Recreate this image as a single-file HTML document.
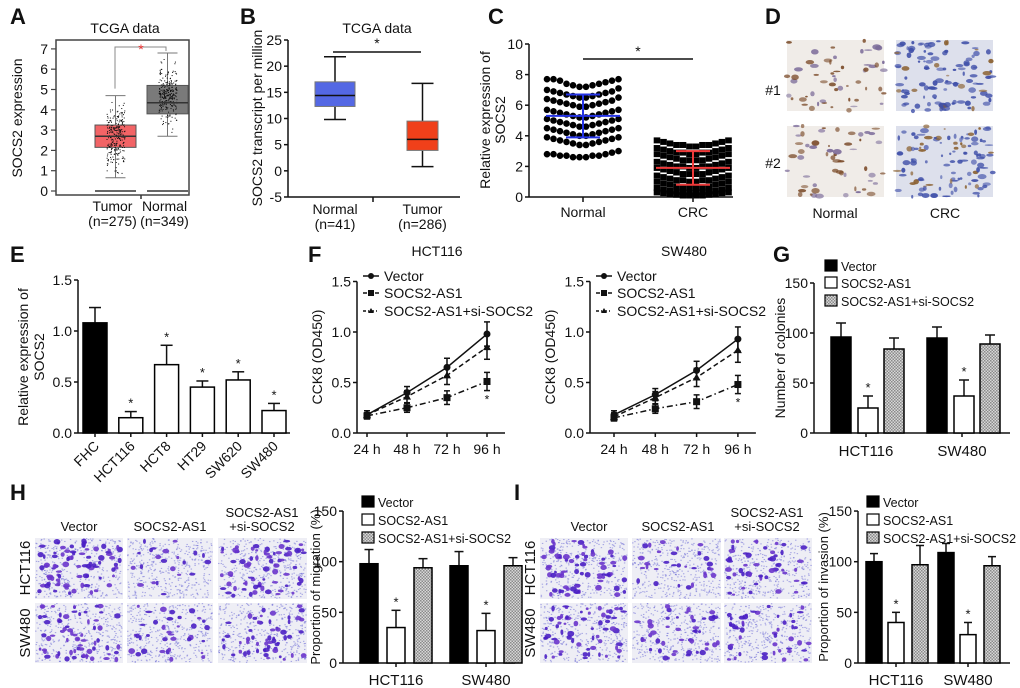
<!DOCTYPE html>
<html><head><meta charset="utf-8"><style>
html,body{margin:0;padding:0;background:#fff;}
svg{display:block;font-family:"Liberation Sans",Arial,sans-serif;}
</style></head><body>
<svg id="fig" width="1020" height="688" viewBox="0 0 1020 688" xmlns="http://www.w3.org/2000/svg">
<defs>
<pattern id="hatch" width="3" height="3" patternUnits="userSpaceOnUse"><rect width="3" height="3" fill="#d8d8d8"/><rect width="1.5" height="1.5" fill="#8a8a8a"/><rect x="1.5" y="1.5" width="1.5" height="1.5" fill="#8a8a8a"/></pattern>
</defs>
</svg>
<script>
// ---------- DATA ----------
const aCats=["Tumor","Normal"];
const aN=["(n=275)","(n=349)"];
const aQ1=[2.15,3.8], aMed=[2.7,4.35], aQ3=[3.25,5.2], aLo=[0.65,2.7], aHi=[4.7,6.8];
const aTicks=[0,1,2,3,4,5,6,7];
const bCats=["Normal","Tumor"], bN=["(n=41)","(n=286)"];
const bQ1=[12.3,3.9], bMed=[14.4,6.0], bQ3=[17.0,9.5], bLo=[9.8,0.8], bHi=[21.8,16.7];
const bTicks=[-5,0,5,10,15,20,25];
const cTicks=[0,2,4,6,8,10];
const cNormal=[7.7,7.7,7.6,7.4,7.3,7.2,7.2,7.3,7.4,7.5,7.6,7.7,
 7.0,6.9,6.8,6.7,6.6,6.5,6.5,6.6,6.7,6.8,6.9,7.1,
 6.4,6.3,6.2,6.1,6.0,5.9,5.9,6.0,6.1,6.2,6.3,6.5,
 5.7,5.6,5.5,5.4,5.3,5.2,5.2,5.3,5.4,5.5,5.6,5.7,
 5.1,5.0,4.9,4.8,4.7,4.6,4.6,4.7,4.8,4.9,5.0,5.1,
 4.5,4.4,4.3,4.2,4.1,4.0,4.0,4.1,4.2,4.3,4.4,4.5,
 3.9,3.8,3.7,3.6,3.5,3.4,3.4,3.5,3.6,3.7,3.8,3.9,
 2.8,2.8,2.7,2.7,2.6,2.6,2.6,2.7,2.7,2.8,2.9,3.0];
const cCRC=[3.7,3.6,3.5,3.4,3.4,3.3,3.3,3.4,3.4,3.5,3.6,3.7,
 3.2,3.1,3.0,2.9,2.9,2.8,2.8,2.9,2.9,3.0,3.1,3.2,
 2.8,2.7,2.6,2.5,2.4,2.4,2.4,2.4,2.5,2.6,2.7,2.8,
 2.3,2.2,2.1,2.0,2.0,1.9,1.9,2.0,2.0,2.1,2.2,2.3,
 1.9,1.8,1.7,1.6,1.5,1.5,1.5,1.5,1.6,1.7,1.8,1.9,
 1.4,1.3,1.2,1.1,1.1,1.0,1.0,1.1,1.1,1.2,1.3,1.4,
 1.0,0.9,0.8,0.7,0.6,0.6,0.6,0.6,0.7,0.8,0.9,1.0,
 0.6,0.5,0.4,0.35,0.3,0.25,0.25,0.3,0.35,0.4,0.5,0.6,
 0.3,0.25,0.2,0.15,0.1,0.1,0.1,0.1,0.15,0.2,0.25,0.3];
const cMean=[5.3,1.9], cSdLo=[3.9,0.8], cSdHi=[6.7,3.0];
const eCats=["FHC","HCT116","HCT8","HT29","SW620","SW480"];
const eVals=[1.08,0.15,0.67,0.45,0.52,0.22];
const eErr=[0.15,0.06,0.19,0.06,0.08,0.07];
const eTicks=[0,0.5,1.0,1.5];
const fTimes=["24 h","48 h","72 h","96 h"];
const fTicks=[0,0.5,1.0,1.5];
const fH_vec=[0.18,0.40,0.65,0.98], fH_as1=[0.17,0.25,0.35,0.51], fH_si=[0.18,0.36,0.57,0.85];
const fS_vec=[0.18,0.38,0.62,0.93], fS_as1=[0.15,0.24,0.31,0.48], fS_si=[0.16,0.35,0.55,0.82];
const fErr=[0.04,0.06,0.09,0.12];
const grpCats=["HCT116","SW480"];
const gVec=[96,95], gVecE=[14,11], gAs1=[25,37], gAs1E=[12,16], gSi=[84,89], gSiE=[11,9];
const hVec=[98,96], hVecE=[14,14], hAs1=[35,32], hAs1E=[17,17], hSi=[94,96], hSiE=[9,8];
const iVec=[100,109], iVecE=[8,9], iAs1=[40,28], iAs1E=[10,12], iSi=[97,96], iSiE=[19,9];
const barTicks=[0,50,100,150];

// ---------- HELPERS ----------
const svg=document.getElementById('fig');
const NS='http://www.w3.org/2000/svg';
function mk(tag,a,name){
  const e=document.createElementNS(NS,tag);
  for(const k in a) e.setAttribute(k,a[k]);
  
  
  svg.appendChild(e); return e;
}
function txt(x,y,s,name,opt){
  opt=opt||{};
  const a={x:x,y:y,'font-size':opt.size||13,'text-anchor':opt.anchor||'middle',fill:opt.fill||'#111'};
  if(opt.weight) a['font-weight']=opt.weight;
  if(opt.rot!==undefined) a.transform='rotate('+opt.rot+' '+x+' '+y+')';
  const t=mk('text',a,name); t.textContent=s; return t;
}
function line(x1,y1,x2,y2,name,w,c,dash){
  const a={x1:x1,y1:y1,x2:x2,y2:y2,stroke:c||'#111','stroke-width':w||1.5};
  if(dash) a['stroke-dasharray']=dash;
  return mk('line',a,name);
}
function yAxis(x,ticks,sc,fmt,name){
  line(x,sc(ticks[ticks.length-1]),x,sc(ticks[0]),name+'-line');
  ticks.forEach(t=>{line(x-4,sc(t),x,sc(t),name+'-tick');
    txt(x-6,sc(t)+5,fmt(t),name+'-tick-label',{anchor:'end',size:14});});
}
function panel(x,y,s){txt(x,y,s,'panel-label-'+s.toLowerCase(),{size:22,weight:'bold',anchor:'start'});}
function rng(seed){let s=seed;return()=>{s=(s*16807)%2147483647;return (s-1)/2147483646;};}
function errCap(x,yTop,yBase,cw,name){line(x,yBase,x,yTop,name);line(x-cw/2,yTop,x+cw/2,yTop,name+'-cap');}

// ---------- PANEL A ----------
panel(10,24,'A');
const sA=v=>191-v*20.3;
txt(125,33,'TCGA data','a-title',{size:14});
mk('rect',{x:56,y:40,width:133,height:155,fill:'none',stroke:'#444','stroke-width':1.5},'a-frame');
aTicks.forEach(t=>{line(51,sA(t),56,sA(t),'a-y-tick',1.2,'#444');txt(48,sA(t)+5,String(t),'a-y-tick-label',{anchor:'end',size:14});});
txt(22,118,'SOCS2 expression','a-y-axis-title',{rot:-90,size:14});
const aX=[115.5,167.5], aW=41, aFill=['#f26466','#7a7a7a'];
aCats.forEach((c,i)=>{
  const cx=aX[i];
  line(cx,sA(aLo[i]),cx,sA(aQ1[i]),'a-whisker-'+c,1,'#777');
  line(cx,sA(aQ3[i]),cx,sA(aHi[i]),'a-whisker-'+c,1,'#777');
  line(cx-10,sA(aLo[i]),cx+10,sA(aLo[i]),'a-whisker-cap',1,'#777');
  line(cx-10,sA(aHi[i]),cx+10,sA(aHi[i]),'a-whisker-cap',1,'#777');
  mk('rect',{x:cx-aW/2,y:sA(aQ3[i]),width:aW,height:sA(aQ1[i])-sA(aQ3[i]),fill:aFill[i],stroke:'#555','stroke-width':1},'a-box-'+c.toLowerCase());
  const r=rng(7+i*13);
  for(let k=0;k<260;k++){const u=(r()+r()+r())/3;const v=aLo[i]+(aHi[i]-aLo[i])*u;
    mk('rect',{x:cx-9+r()*18,y:sA(v),width:1,height:1,fill:'#111'},'a-point');}
  line(cx-aW/2,sA(aMed[i]),cx+aW/2,sA(aMed[i]),'a-median-'+c.toLowerCase(),1.5,'#333');
  line(cx-aW/2,sA(0),cx+aW/2,sA(0),'a-zero-line',2,'#666');
  txt(cx-3,211,c,'a-x-label',{size:14});
  txt(cx-3,226,aN[i],'a-x-n-label',{size:14});
});
line(141,195,141,199,'a-x-tick',1.5,'#333');
mk('path',{d:'M115,'+(sA(aHi[0])-7)+' V47 H166 V'+(sA(aHi[1])-2),fill:'none',stroke:'#888','stroke-width':1},'a-significance-bracket');
txt(141,54,'*','a-significance-star',{fill:'#e83030',size:14});

// ---------- PANEL B ----------
panel(240,24,'B');
const sB=v=>40+(25-v)*5.233;
txt(377,33,'TCGA data','b-title',{size:14});
yAxis(288,bTicks,sB,t=>String(t),'b-y-axis');
line(288,197,460,197,'b-x-axis');
line(373,197,373,202,'b-x-tick');
txt(262,118,'SOCS2 transcript per million','b-y-axis-title',{rot:-90,size:14});
const bX=[335,422.5], bW=[40,31], bFill=['#5468e4','#f0401a'];
bCats.forEach((c,i)=>{
  const cx=bX[i];
  line(cx,sB(bLo[i]),cx,sB(bQ1[i]),'b-whisker');
  line(cx,sB(bQ3[i]),cx,sB(bHi[i]),'b-whisker');
  line(cx-11,sB(bLo[i]),cx+11,sB(bLo[i]),'b-whisker-cap');
  line(cx-11,sB(bHi[i]),cx+11,sB(bHi[i]),'b-whisker-cap');
  mk('rect',{x:cx-bW[i]/2,y:sB(bQ3[i]),width:bW[i],height:sB(bQ1[i])-sB(bQ3[i]),fill:bFill[i],stroke:'#777','stroke-width':1},'b-box-'+c.toLowerCase());
  line(cx-bW[i]/2,sB(bMed[i]),cx+bW[i]/2,sB(bMed[i]),'b-median',1.5,'#111');
  txt(cx,214,c,'b-x-label',{size:14});
  txt(cx,229,bN[i],'b-x-n-label',{size:14});
});
line(333,52,421,52,'b-significance-line');
txt(377,48,'*','b-significance-star',{size:14});

// ---------- PANEL C ----------
panel(488,24,'C');
const sC=v=>197-v*15.3;
yAxis(529,cTicks,sC,t=>String(t),'c-y-axis');
line(529,197,733,197,'c-x-axis');
txt(490,120,'Relative expression of','c-y-axis-title',{rot:-90,size:14});
txt(505,120,'SOCS2','c-y-axis-title-2',{rot:-90,size:14});
const cX=[583,693];
[cNormal,cCRC].forEach((arr,g)=>{
  arr.forEach((v,i)=>{
    const col=i%12, x=cX[g]-36+col*6.5;
    if(g===0) mk('circle',{cx:x,cy:sC(v),r:3.3,fill:'#000'},'c-normal-dot');
    else mk('rect',{x:x-3.3,y:sC(v)-3,width:6.6,height:6,fill:'#000'},'c-crc-square');
  });
});
[['#2433e6',0],['#ee3a3a',1]].forEach(([col,g])=>{
  line(cX[g]-37,sC(cMean[g]),cX[g]+37,sC(cMean[g]),'c-mean-line',2,col);
  line(cX[g],sC(cSdLo[g]),cX[g],sC(cSdHi[g]),'c-sd-line',2,col);
  line(cX[g]-17,sC(cSdLo[g]),cX[g]+17,sC(cSdLo[g]),'c-sd-cap',2,col);
  line(cX[g]-17,sC(cSdHi[g]),cX[g]+17,sC(cSdHi[g]),'c-sd-cap',2,col);
  line(cX[g],197,cX[g],202,'c-x-tick');
});
txt(583,217,'Normal','c-x-label',{size:14});
txt(693,217,'CRC','c-x-label',{size:14});
line(583,59,693,59,'c-significance-line');
txt(638,56,'*','c-significance-star',{size:14});

// ---------- PANEL D (IHC images) ----------
panel(765,24,'D');
function ihc(x,y,w,h,seed,kind,name){
  mk('rect',{x:x,y:y,width:w,height:h,fill:kind==='n'?'#f0ece8':'#dde0ec'},name);
  const r=rng(seed);
  for(let k=0;k<(kind==='n'?55:110);k++){
    const c=kind==='n'?(r()<0.55?'#7a4a28':'#7a6a98'):(r()<0.85?'#3e4ea8':'#8a6030');
    mk('ellipse',{cx:x+r()*w,cy:y+r()*h,rx:1+r()*3.5,ry:0.8+r()*2,fill:c,opacity:0.55+r()*0.4},name+'-cell');
  }
}
ihc(787,40,97,71,11,'n','d-image-normal-1');
ihc(896,40,97,71,23,'c','d-image-crc-1');
ihc(787,126,97,71,37,'n','d-image-normal-2');
ihc(896,126,97,71,41,'c','d-image-crc-2');
txt(773,95,'#1','d-row-label',{size:14});
txt(773,168,'#2','d-row-label',{size:14});
txt(835,218,'Normal','d-col-label',{size:14});
txt(945,218,'CRC','d-col-label',{size:14});

// ---------- PANEL E ----------
panel(10,262,'E');
const sE=v=>433-v*102;
yAxis(78,eTicks,sE,t=>t.toFixed(1),'e-y-axis');
line(78,433,290,433,'e-x-axis');
txt(28,357,'Relative expression of','e-y-axis-title',{rot:-90,size:14});
txt(44,357,'SOCS2','e-y-axis-title-2',{rot:-90,size:14});
const eX0=95, eStep=35.8;
eCats.forEach((c,i)=>{
  const cx=eX0+i*eStep;
  errCap(cx,sE(eVals[i]+eErr[i]),sE(eVals[i]),12,'e-error-bar');
  mk('rect',{x:cx-12,y:sE(eVals[i]),width:24,height:433-sE(eVals[i]),fill:i===0?'#000':'#fff',stroke:'#000','stroke-width':1.5},'e-bar-'+c.toLowerCase());
  line(cx,433,cx,437,'e-x-tick');
  if(i>0) txt(cx,sE(eVals[i]+eErr[i])-4,'*','e-star',{size:13});
  txt(cx+5,447,c,'e-x-label',{anchor:'end',rot:-45,size:14});
});

// ---------- PANEL F ----------
panel(308,262,'F');
const sF=v=>433-v*101;
function cck(ax,x0,step,title,vec,as1,si,pre){
  txt(x0+70,256,title,pre+'-title',{size:14});
  yAxis(ax,fTicks,sF,t=>t.toFixed(1),pre+'-y-axis');
  line(ax,433,x0+step*3+18,433,pre+'-x-axis');
  txt(ax-35,357,'CCK8 (OD450)','f-y-axis-title',{rot:-90,size:14});
  fTimes.forEach((t,i)=>{line(x0+i*step,433,x0+i*step,437,pre+'-x-tick');txt(x0+i*step,454,t,pre+'-x-label',{size:14});});
  const ser=[[vec,'',"circle"],[si,'5,3',"tri"],[as1,'6,3,1.5,3',"sq"]];
  ser.forEach(([d,dash,m],si2)=>{
    let p='';d.forEach((v,i)=>{p+=(i?'L':'M')+(x0+i*step)+','+sF(v);});
    const pa={d:p,fill:'none',stroke:'#111','stroke-width':1.5};if(dash)pa['stroke-dasharray']=dash;
    mk('path',pa,pre+'-line-'+m);
    d.forEach((v,i)=>{const x=x0+i*step,y=sF(v),e=fErr[i]*(si2===2?0.75:1);
      line(x,sF(v-e),x,sF(v+e),pre+'-error-bar',1.5);
      line(x-3,sF(v-e),x+3,sF(v-e),pre+'-error-cap',1.5);line(x-3,sF(v+e),x+3,sF(v+e),pre+'-error-cap',1.5);
      if(m==='circle')mk('circle',{cx:x,cy:y,r:3.5,fill:'#111'},pre+'-point-vector');
      else if(m==='sq')mk('rect',{x:x-3.5,y:y-3.5,width:7,height:7,fill:'#111'},pre+'-point-socs2-as1');
      else mk('path',{d:'M'+x+','+(y-4)+'L'+(x+4)+','+(y+3)+'L'+(x-4)+','+(y+3)+'Z',fill:'#111'},pre+'-point-si');
    });
  });
  txt(x0+3*step,sF(as1[3]-fErr[3])+10,'*',pre+'-star',{size:12});
  const lx=ax+6, ly=[276,293,311];
  line(lx,ly[0],lx+16,ly[0],pre+'-legend-line');mk('circle',{cx:lx+8,cy:ly[0],r:3,fill:'#111'},pre+'-legend-marker');
  txt(lx+21,ly[0]+5,'Vector',pre+'-legend-label',{anchor:'start',size:14});
  line(lx,ly[1],lx+16,ly[1],pre+'-legend-line',1.5,'#111','4,2');mk('rect',{x:lx+5,y:ly[1]-3,width:6,height:6,fill:'#111'},pre+'-legend-marker');
  txt(lx+21,ly[1]+5,'SOCS2-AS1',pre+'-legend-label',{anchor:'start',size:14});
  line(lx,ly[2],lx+16,ly[2],pre+'-legend-line',1.5,'#111','3,2,1,2');mk('path',{d:'M'+(lx+8)+','+(ly[2]-3)+'l3,5h-6z',fill:'#111'},pre+'-legend-marker');
  txt(lx+21,ly[2]+5,'SOCS2-AS1+si-SOCS2',pre+'-legend-label',{anchor:'start',size:14});
}
cck(357,367,40,'HCT116',fH_vec,fH_as1,fH_si,'f-hct116');
cck(590,614,41.3,'SW480',fS_vec,fS_as1,fS_si,'f-sw480');

// ---------- GROUPED BAR HELPER ----------
function grouped(pre,ax,sc,yTop,yBase,groupX,offs,bw,vec,vecE,as1,as1E,si,siE,xEnd,title,legX,legY,titleX,labY,titleSize){
  yAxis(ax,barTicks,sc,t=>String(t),pre+'-y-axis');
  line(ax,yBase,xEnd,yBase,pre+'-x-axis');
  txt(titleX,(yTop+yBase)/2,title,pre+'-y-axis-title',{rot:-90,size:titleSize});
  const series=[[vec,vecE,'#000','vector'],[as1,as1E,'#fff','socs2-as1'],[si,siE,'url(#hatch)','socs2-as1-si-socs2']];
  grpCats.forEach((c,g)=>{
    series.forEach(([v,e,f,n],s)=>{
      const cx=groupX[g]+offs[s];
      errCap(cx,sc(v[g]+e[g]),sc(v[g]),bw/2,pre+'-error-bar');
      mk('rect',{x:cx-bw/2,y:sc(v[g]),width:bw,height:yBase-sc(v[g]),fill:f,stroke:'#000','stroke-width':1.5},pre+'-bar-'+c.toLowerCase()+'-'+n);
      if(s===1){txt(cx,sc(v[g]+e[g])-4,'*',pre+'-star',{size:13});}
    });
    line(groupX[g],yBase,groupX[g],yBase+4,pre+'-x-tick');
    txt(groupX[g],labY,c,pre+'-x-label',{size:15});
  });
  const labels=['Vector','SOCS2-AS1','SOCS2-AS1+si-SOCS2'], fills=['#000','#fff','url(#hatch)'];
  labels.forEach((l,k)=>{
    mk('rect',{x:legX,y:legY[k]-6,width:12,height:11,fill:fills[k],stroke:'#000','stroke-width':1.2},pre+'-legend-swatch');
    txt(legX+16,legY[k]+5,l,pre+'-legend-label',{anchor:'start',size:12.5});
  });
}
// ---------- PANEL G ----------
panel(773,262,'G');
grouped('g',814,v=>433-v,283,433,[866,962],[-25,2,28],20,gVec,gVecE,gAs1,gAs1E,gSi,gSiE,1010,'Number of colonies',825,[266,283,301],785,456,14);

// ---------- MICROSCOPY ----------
function micro(x,y,w,h,seed,n,name){
  mk('rect',{x:x,y:y,width:w,height:h,fill:'#eeeef5'},name);
  const r=rng(seed);
  for(let k=0;k<420;k++) mk('rect',{x:x+r()*(w-1.5),y:y+r()*(h-1.2),width:1.4,height:1.1,fill:'#6e6cd6',opacity:0.55},name+'-speck');
  for(let k=0;k<n;k++) mk('ellipse',{cx:x+3+r()*(w-6),cy:y+3+r()*(h-6),rx:1.3+r()*2.2,ry:1.1+r()*1.8,fill:r()<0.5?'#4a1fc4':'#6a35cc',opacity:0.9},name+'-cell');
}
// ---------- PANEL H ----------
panel(10,500,'H');
const hCols=[[35,88],[127,86],[218,89]], hRows=[[538,61],[603,60]];
[[80,22,70],[65,35,55]].forEach((ns,ri)=>hCols.forEach((c,ci)=>micro(c[0],hRows[ri][0],c[1],hRows[ri][1],100+ri*10+ci,ns[ci],'h-image')));
txt(79,531,'Vector','h-col-label',{size:13});
txt(170,531,'SOCS2-AS1','h-col-label',{size:13});
txt(262,517,'SOCS2-AS1','h-col-label',{size:13});
txt(262,531,'+si-SOCS2','h-col-label',{size:13});
txt(30,568,'HCT116','h-row-label',{rot:-90,size:15});
txt(30,633,'SW480','h-row-label',{rot:-90,size:15});
const sH=v=>663-v*1.013;
grouped('h',343,sH,511,663,[396,486],[-27,0,27],18,hVec,hVecE,hAs1,hAs1E,hSi,hSiE,515,'Proportion of migration (%)',362,[502,520,538],320,685,13);

// ---------- PANEL I ----------
panel(514,500,'I');
const iCols=[[540,88],[632,89],[724,88]];
[[70,30,50],[60,45,45]].forEach((ns,ri)=>iCols.forEach((c,ci)=>micro(c[0],hRows[ri][0],c[1],hRows[ri][1],200+ri*10+ci,ns[ci],'i-image')));
txt(589,531,'Vector','i-col-label',{size:13});
txt(678,531,'SOCS2-AS1','i-col-label',{size:13});
txt(767,517,'SOCS2-AS1','i-col-label',{size:13});
txt(767,531,'+si-SOCS2','i-col-label',{size:13});
txt(535,568,'HCT116','i-row-label',{rot:-90,size:15});
txt(535,633,'SW480','i-row-label',{rot:-90,size:15});
grouped('i',858,sH,511,663,[896,968],[-22,0,24],16,iVec,iVecE,iAs1,iAs1E,iSi,iSiE,1010,'Proportion of invasion (%)',867,[502,520,538],828,685,13);
</script>
</body></html>
